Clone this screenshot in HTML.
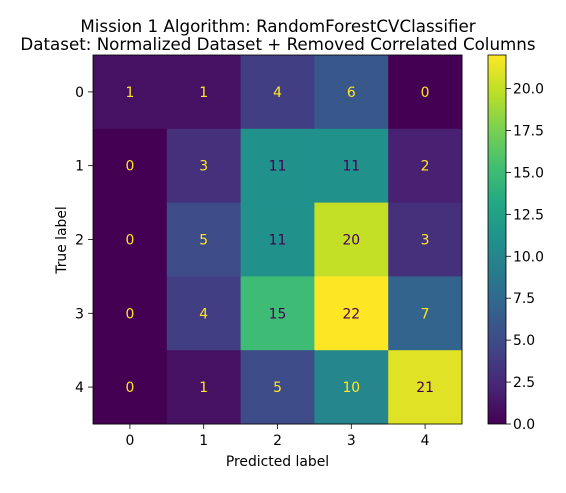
<!DOCTYPE html>
<html><head><meta charset="utf-8"><style>
body{margin:0;background:#fff;}
svg text{font-family:"DejaVu Sans","Liberation Sans",sans-serif;}
</style></head><body>
<svg id="chart" width="566" height="488" xmlns="http://www.w3.org/2000/svg">
<defs>
<linearGradient id="vir" x1="0" y1="1" x2="0" y2="0">
<stop offset="0" stop-color="#440154"/><stop offset="0.1" stop-color="#482475"/><stop offset="0.2" stop-color="#414487"/><stop offset="0.3" stop-color="#355f8d"/><stop offset="0.4" stop-color="#2a788e"/><stop offset="0.5" stop-color="#21918c"/><stop offset="0.6" stop-color="#22a884"/><stop offset="0.7" stop-color="#44bf70"/><stop offset="0.8" stop-color="#7ad151"/><stop offset="0.9" stop-color="#bddf26"/><stop offset="1" stop-color="#fde725"/>
</linearGradient>
</defs>
<text x="278" y="32" font-size="16.7" text-anchor="middle">Mission 1 Algorithm: RandomForestCVClassifier</text>
<text x="278" y="50" font-size="16.7" text-anchor="middle">Dataset: Normalized Dataset + Removed Correlated Columns</text>
<g id="cells"></g>
<rect x="93" y="55" width="369" height="369" fill="none" stroke="#000" stroke-width="0.8"/>
<g id="axes"></g>
<text x="277.5" y="466" font-size="13.9" text-anchor="middle">Predicted label</text>
<text x="0" y="0" font-size="13.9" text-anchor="middle" transform="translate(66,240) rotate(-90)">True label</text>
<rect x="488" y="55" width="18" height="369" fill="url(#vir)" stroke="#000" stroke-width="0.8"/>
<g id="cbar"></g>
</svg>
<script>
const categories = ["0","1","2","3","4"];
const matrix = [
 [1,1,4,6,0],
 [0,3,11,11,2],
 [0,5,11,20,3],
 [0,4,15,22,7],
 [0,1,5,10,21]
];
const cbarTicks = [0,2.5,5,7.5,10,12.5,15,17.5,20];
const cbarLabels = ["0.0","2.5","5.0","7.5","10.0","12.5","15.0","17.5","20.0"];

const NS="http://www.w3.org/2000/svg";
const vir=["#440154","#482475","#414487","#355f8d","#2a788e","#21918c","#22a884","#44bf70","#7ad151","#bddf26","#fde725"];
function hex(h){return [1,3,5].map(i=>parseInt(h.substr(i,2),16));}
function viridis(t){t=Math.max(0,Math.min(1,t));const p=t*10,i=Math.min(9,Math.floor(p)),f=p-i;const a=hex(vir[i]),b=hex(vir[i+1]);return "rgb("+a.map((v,k)=>Math.round(v+(b[k]-v)*f)).join(",")+")";}
let vmin=Infinity,vmax=-Infinity;matrix.forEach(r=>r.forEach(v=>{vmin=Math.min(vmin,v);vmax=Math.max(vmax,v);}));
const X0=93,Y0=55,S=369,n=categories.length,cw=S/n;
const xs=i=>X0+cw*(i+0.5), ys=i=>Y0+cw*(i+0.5);
const cb=v=>424-(v-vmin)/(vmax-vmin)*369;
function el(t,a,p){const e=document.createElementNS(NS,t);for(const k in a)e.setAttribute(k,a[k]);p.appendChild(e);return e;}
const cells=document.getElementById('cells'),axes=document.getElementById('axes'),cbar=document.getElementById('cbar');
const thresh=(vmax+vmin)/2;
matrix.forEach((row,r)=>row.forEach((v,c)=>{
 const rc=el('rect',{x:X0+cw*c,y:Y0+cw*r,width:cw+0.5,height:cw+0.5,fill:viridis((v-vmin)/(vmax-vmin))},cells);
 
 
 const t=el('text',{x:xs(c),y:ys(r)+5,'font-size':13.9,'text-anchor':'middle',fill:v<thresh?'#fde725':'#440154'},cells);
 t.textContent=v;
 
 
}));
categories.forEach((c,i)=>{
 el('line',{x1:xs(i),x2:xs(i),y1:424,y2:429,stroke:'#000','stroke-width':0.8},axes);
 const tx=el('text',{x:xs(i),y:445,'font-size':13.9,'text-anchor':'middle'},axes);tx.textContent=c;
 
 
 el('line',{x1:88,x2:93,y1:ys(i),y2:ys(i),stroke:'#000','stroke-width':0.8},axes);
 const ty=el('text',{x:84,y:ys(i)+5,'font-size':13.9,'text-anchor':'end'},axes);ty.textContent=c;
 
 
});
cbarTicks.forEach((v,i)=>{
 el('line',{x1:506,x2:511,y1:cb(v),y2:cb(v),stroke:'#000','stroke-width':0.8},cbar);
 const t=el('text',{x:513,y:cb(v)+5,'font-size':13.9},cbar);t.textContent=cbarLabels[i];
 
 
});
</script>
</body></html>
